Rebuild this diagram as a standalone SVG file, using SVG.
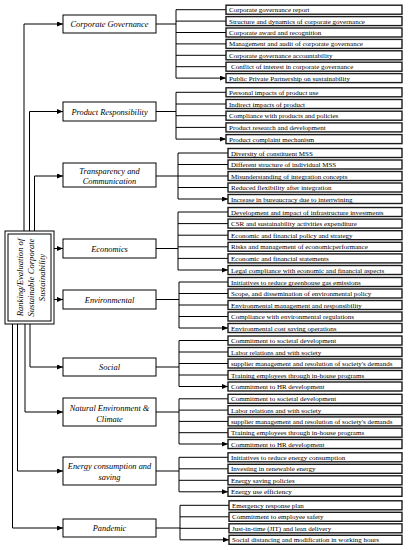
<svg xmlns="http://www.w3.org/2000/svg" width="410" height="550" viewBox="0 0 410 550">
<defs>
<marker id="ah" markerWidth="6" markerHeight="5" refX="6" refY="2.5" orient="auto" markerUnits="userSpaceOnUse"><path d="M0,0 L6,2.5 L0,5 z" fill="#000"/></marker>
<style>
.bg{fill:#fff}
.grp{fill:#fff;stroke:#000;stroke-width:1}
.leaf{fill:#fff;stroke:#1a1a1a;stroke-width:1.4}
.gt{font-family:"Liberation Serif",serif;font-style:italic;font-size:8.4px;fill:#000;text-anchor:middle}
.lt{font-family:"Liberation Serif",serif;font-size:7px;fill:#000}
.rt{font-family:"Liberation Serif",serif;font-style:italic;font-size:8.6px;fill:#000;text-anchor:middle}
.c{fill:none;stroke:#000;stroke-width:1}
.ca{fill:none;stroke:#000;stroke-width:1;marker-end:url(#ah)}
</style>
</defs>
<rect class="bg" x="0" y="0" width="410" height="550"/>

<g id="connectors">
<!-- root to groups -->
<path class="ca" d="M24,231 V24 H63"/>
<path class="ca" d="M29.5,231 V111.5 H63"/>
<path class="ca" d="M34.5,231 V176 H63"/>
<path class="ca" d="M54,248.5 H63"/>
<path class="ca" d="M54,299.5 H63"/>
<path class="ca" d="M30,324 V367 H63"/>
<path class="ca" d="M25,324 V412 H63"/>
<path class="ca" d="M17.5,324 V471 H63"/>
<path class="ca" d="M12.5,324 V528 H63"/>
<!-- CG -->
<path class="c" d="M156,24 H176 M176,9.7 V78.1"/>
<path class="ca" d="M176,9.7 H226 M176,21.1 H226 M176,32.5 H226 M176,43.9 H226 M176,55.3 H226 M176,66.7 H226 M176,78.1 H226"/>
<!-- PR -->
<path class="c" d="M156,111.5 H176 M176,92.3 V139.1"/>
<path class="ca" d="M176,92.3 H226 M176,104 H226 M176,115.7 H226 M176,127.4 H226 M176,139.1 H226"/>
<!-- TC -->
<path class="c" d="M156,176 H178 M178,153 V199"/>
<path class="ca" d="M178,153 H228 M178,164.5 H228 M178,176 H228 M178,187.5 H228 M178,199 H228"/>
<!-- Econ -->
<path class="c" d="M156,248.5 H178 M178,212 V270"/>
<path class="ca" d="M178,212 H228 M178,223.6 H228 M178,235.2 H228 M178,246.8 H228 M178,258.4 H228 M178,270 H228"/>
<!-- Env -->
<path class="c" d="M156,299.5 H179 M179,282 V328"/>
<path class="ca" d="M179,282 H228 M179,293.5 H228 M179,305 H228 M179,316.5 H228 M179,328 H228"/>
<!-- Social -->
<path class="c" d="M156,367 H179 M179,340.5 V386.5"/>
<path class="ca" d="M179,340.5 H228 M179,352 H228 M179,363.5 H228 M179,375 H228 M179,386.5 H228"/>
<!-- NEC -->
<path class="c" d="M156,412 H179 M179,398.8 V444"/>
<path class="ca" d="M179,398.8 H228 M179,410.1 H228 M179,421.4 H228 M179,432.7 H228 M179,444 H228"/>
<!-- Energy -->
<path class="c" d="M156,471 H179 M179,457.3 V491.8"/>
<path class="ca" d="M179,457.3 H228 M179,468.8 H228 M179,480.3 H228 M179,491.8 H228"/>
<!-- Pandemic -->
<path class="c" d="M156,528 H180 M180,505.3 V539.8"/>
<path class="ca" d="M180,505.3 H229 M180,516.8 H229 M180,528.3 H229 M180,539.8 H229"/>
</g>

<g id="root">
<rect x="5" y="231" width="49" height="93" fill="#fff" stroke="#000" stroke-width="1"/>
<rect x="8" y="234" width="43" height="87" fill="none" stroke="#000" stroke-width="1"/>
<text class="rt" transform="translate(29.5,277.5) rotate(-90)"><tspan x="0" y="-7">Ranking/Evaluation of</tspan><tspan x="0" y="4.3">Sustainable Corporate</tspan><tspan x="0" y="15.3">Sustainability</tspan></text>
</g>

<g id="corporate-governance">
<rect class="grp" x="63" y="15" width="93" height="18"/>
<text class="gt" x="109.5" y="27">Corporate Governance</text>
<rect class="leaf" x="226" y="5.2" width="176" height="9"/><text class="lt" x="229" y="12.2">Corporate governance report</text>
<rect class="leaf" x="226" y="16.6" width="176" height="9"/><text class="lt" x="229" y="23.6">Structure and dynamics of corporate governance</text>
<rect class="leaf" x="226" y="28" width="176" height="9"/><text class="lt" x="229" y="35">Corporate award and recognition</text>
<rect class="leaf" x="226" y="39.4" width="176" height="9"/><text class="lt" x="229" y="46.4">Management and audit of corporate governance</text>
<rect class="leaf" x="226" y="50.8" width="176" height="9"/><text class="lt" x="229" y="57.8">Corporate governance accountability</text>
<rect class="leaf" x="226" y="62.2" width="176" height="9"/><text class="lt" x="231" y="69.2">Conflict of interest in corporate governance</text>
<rect class="leaf" x="226" y="73.6" width="176" height="9"/><text class="lt" x="229" y="80.6">Public Private Partnership on sustainability</text>
</g>

<g id="product-responsibility">
<rect class="grp" x="63" y="102" width="93" height="19"/>
<text class="gt" x="109.5" y="114.5">Product Responsibility</text>
<rect class="leaf" x="226" y="87.8" width="176" height="9"/><text class="lt" x="229" y="94.8">Personal impacts of product use</text>
<rect class="leaf" x="226" y="99.5" width="176" height="9"/><text class="lt" x="229" y="106.5">Indirect impacts of product</text>
<rect class="leaf" x="226" y="111.2" width="176" height="9"/><text class="lt" x="229" y="118.2">Compliance with products and policies</text>
<rect class="leaf" x="226" y="122.9" width="176" height="9"/><text class="lt" x="229" y="129.9">Product research and development</text>
<rect class="leaf" x="226" y="134.6" width="176" height="9"/><text class="lt" x="229" y="141.6">Product complaint mechanism</text>
</g>

<g id="transparency-communication">
<rect class="grp" x="63" y="163" width="93" height="24"/>
<text class="gt" x="109.5" y="173.5">Transparency and</text>
<text class="gt" x="109.5" y="183.5">Communication</text>
<rect class="leaf" x="228" y="148.5" width="174" height="9"/><text class="lt" x="231" y="155.5">Diversity of constituent MSS</text>
<rect class="leaf" x="228" y="160" width="174" height="9"/><text class="lt" x="231" y="167">Different structure of individual MSS</text>
<rect class="leaf" x="228" y="171.5" width="174" height="9"/><text class="lt" x="231" y="178.5">Misunderstanding of integration concepts</text>
<rect class="leaf" x="228" y="183" width="174" height="9"/><text class="lt" x="231" y="190">Reduced flexibility after integration</text>
<rect class="leaf" x="228" y="194.5" width="174" height="9"/><text class="lt" x="231" y="201.5">Increase in bureaucracy due to intertwining</text>
</g>

<g id="economics">
<rect class="grp" x="63" y="239" width="93" height="19"/>
<text class="gt" x="109.5" y="251.5">Economics</text>
<rect class="leaf" x="228" y="207.5" width="174" height="9"/><text class="lt" x="231" y="214.5">Development and impact of infrastructure investments</text>
<rect class="leaf" x="228" y="219.1" width="174" height="9"/><text class="lt" x="231" y="226.1">CSR and sustainability activities expenditure</text>
<rect class="leaf" x="228" y="230.7" width="174" height="9"/><text class="lt" x="231" y="237.7">Economic and financial policy and strategy</text>
<rect class="leaf" x="228" y="242.3" width="174" height="9"/><text class="lt" x="231" y="249.3">Risks and management of economicperformance</text>
<rect class="leaf" x="228" y="253.9" width="174" height="9"/><text class="lt" x="231" y="260.9">Economic and financial statements</text>
<rect class="leaf" x="228" y="265.5" width="174" height="9"/><text class="lt" x="231" y="272.5">Legal compliance with economic and financial aspects</text>
</g>

<g id="environmental">
<rect class="grp" x="63" y="290" width="93" height="19"/>
<text class="gt" x="109.5" y="302.5">Environmental</text>
<rect class="leaf" x="228" y="277.5" width="174" height="9"/><text class="lt" x="231" y="284.5">Initiatives to reduce greenhouse gas emissions</text>
<rect class="leaf" x="228" y="289" width="174" height="9"/><text class="lt" x="231" y="296">Scope, and dissemination of environmental policy</text>
<rect class="leaf" x="228" y="300.5" width="174" height="9"/><text class="lt" x="231" y="307.5">Environmental management and responsibility</text>
<rect class="leaf" x="228" y="312" width="174" height="9"/><text class="lt" x="231" y="319">Compliance with environmental regulations</text>
<rect class="leaf" x="228" y="323.5" width="174" height="9"/><text class="lt" x="231" y="330.5">Environmental cost saving operations</text>
</g>

<g id="social">
<rect class="grp" x="63" y="358" width="93" height="18"/>
<text class="gt" x="109.5" y="370">Social</text>
<rect class="leaf" x="228" y="336" width="174" height="9"/><text class="lt" x="231" y="343">Commitment to societal development</text>
<rect class="leaf" x="228" y="347.5" width="174" height="9"/><text class="lt" x="231" y="354.5">Labor relations and with society</text>
<rect class="leaf" x="228" y="359" width="174" height="9"/><text class="lt" x="231" y="366">supplier management and resolution of society's demands</text>
<rect class="leaf" x="228" y="370.5" width="174" height="9"/><text class="lt" x="231" y="377.5">Training employees through in-house programs</text>
<rect class="leaf" x="228" y="382" width="174" height="9"/><text class="lt" x="231" y="389">Commitment to HR development</text>
</g>

<g id="natural-environment-climate">
<rect class="grp" x="63" y="398" width="93" height="28"/>
<text class="gt" x="109.5" y="410.5">Natural Environment &amp;</text>
<text class="gt" x="109.5" y="421.5">Climate</text>
<rect class="leaf" x="228" y="394.3" width="174" height="9"/><text class="lt" x="231" y="401.3">Commitment to societal development</text>
<rect class="leaf" x="228" y="405.6" width="174" height="9"/><text class="lt" x="231" y="412.6">Labor relations and with society</text>
<rect class="leaf" x="228" y="416.9" width="174" height="9"/><text class="lt" x="231" y="423.9">supplier management and resolution of society's demands</text>
<rect class="leaf" x="228" y="428.2" width="174" height="9"/><text class="lt" x="231" y="435.2">Training employees through in-house programs</text>
<rect class="leaf" x="228" y="439.5" width="174" height="9"/><text class="lt" x="231" y="446.5">Commitment to HR development</text>
</g>

<g id="energy">
<rect class="grp" x="63" y="457" width="93" height="28"/>
<text class="gt" x="109.5" y="468.5">Energy consumption and</text>
<text class="gt" x="109.5" y="479.5">saving</text>
<rect class="leaf" x="228" y="452.8" width="174" height="9"/><text class="lt" x="231" y="459.8">Initiatives to reduce energy consumption</text>
<rect class="leaf" x="228" y="464.3" width="174" height="9"/><text class="lt" x="231" y="471.3">Investing in renewable energy</text>
<rect class="leaf" x="228" y="475.8" width="174" height="9"/><text class="lt" x="231" y="482.8">Energy saving policies</text>
<rect class="leaf" x="228" y="487.3" width="174" height="9"/><text class="lt" x="231" y="494.3">Energy use efficiency</text>
</g>

<g id="pandemic">
<rect class="grp" x="63" y="519" width="93" height="18"/>
<text class="gt" x="109.5" y="531">Pandemic</text>
<rect class="leaf" x="229" y="500.8" width="173" height="9"/><text class="lt" x="232" y="507.8">Emergency response plan</text>
<rect class="leaf" x="229" y="512.3" width="173" height="9"/><text class="lt" x="232" y="519.3">Commitment to employee safety</text>
<rect class="leaf" x="229" y="523.8" width="173" height="9"/><text class="lt" x="232" y="530.8">Just-in-time (JIT) and lean delivery</text>
<rect class="leaf" x="229" y="535.3" width="173" height="9"/><text class="lt" x="232" y="542.3">Social distancing and modification in  working hours</text>
</g>
</svg>
